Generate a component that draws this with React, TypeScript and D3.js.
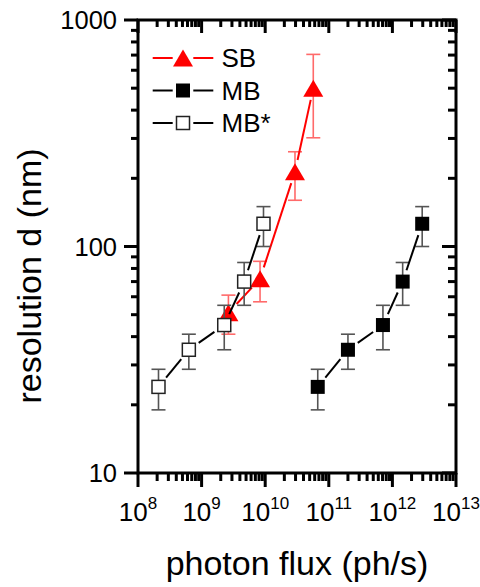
import React from "react";
import * as d3 from "d3";

const sbFlux = [2.64e9, 8.3e9, 2.94e10, 5.7e10];
const sbRes = [51, 72, 214, 500];
const sbHi = [61, 86, 262, 705];
const sbLo = [41, 57, 160, 302];

const mbFlux = [6.7e10, 2.0e11, 7.1e11, 1.45e12, 2.94e12];
const mbRes = [24, 35, 45, 70, 126];
const mbHi = [28.7, 41, 55, 85, 150];
const mbLo = [19, 28.7, 35, 55, 100];

const mbsFlux = [2.1e8, 6.3e8, 2.27e9, 4.67e9, 9.4e9];
const mbsRes = [24, 35, 45, 70, 126];
const mbsHi = [28.7, 41, 55, 85, 150];
const mbsLo = [19, 28.7, 35, 55, 100];

const xDecades = [8, 9, 10, 11, 12, 13];
const yTicks = [10, 100, 1000];
const legendLabels = ["SB", "MB", "MB*"];

const FONT = "'Liberation Sans', Arial, Helvetica, sans-serif";
const L = 138, R = 456, T = 20, B = 473;

const x = d3.scaleLog().domain([1e8, 1e13]).range([L, R]);
const y = d3.scaleLog().domain([10, 1000]).range([B, T]);

const xMinor: number[] = [];
for (let d = 8; d < 13; d++) for (let k = 2; k <= 9; k++) xMinor.push(k * Math.pow(10, d));
const yMinor: number[] = [];
for (let d = 1; d < 3; d++) for (let k = 2; k <= 9; k++) yMinor.push(k * Math.pow(10, d));

type Pt = [number, number];

function gappedSegments(pts: Pt[], gap: number) {
  const segs: { x1: number; y1: number; x2: number; y2: number }[] = [];
  for (let i = 0; i < pts.length - 1; i++) {
    const [ax, ay] = pts[i];
    const [bx, by] = pts[i + 1];
    const dx = bx - ax, dy = by - ay;
    const len = Math.hypot(dx, dy);
    if (len <= 2 * gap) continue;
    const ux = dx / len, uy = dy / len;
    segs.push({ x1: ax + ux * gap, y1: ay + uy * gap, x2: bx - ux * gap, y2: by - uy * gap });
  }
  return segs;
}

function triPath(cx: number, cy: number, w = 20, h = 17) {
  return `M${cx},${cy - h / 2}L${cx + w / 2},${cy + h / 2}L${cx - w / 2},${cy + h / 2}Z`;
}

function Series({
  flux, res, hi, lo, color, errColor, marker,
}: {
  flux: number[]; res: number[]; hi: number[]; lo: number[];
  color: string; errColor: string; marker: "tri" | "sq" | "osq";
}) {
  const pts: Pt[] = flux.map((f, i) => [x(f), y(res[i])]);
  const segs = gappedSegments(pts, 12);
  return (
    <g>
      {flux.map((f, i) => {
        const cx = x(f);
        return (
          <g key={"e" + i} stroke={errColor} strokeWidth={1.6} fill="none">
            <line x1={cx} x2={cx} y1={y(hi[i])} y2={y(lo[i])} />
            <line x1={cx - 7} x2={cx + 7} y1={y(hi[i])} y2={y(hi[i])} />
            <line x1={cx - 7} x2={cx + 7} y1={y(lo[i])} y2={y(lo[i])} />
          </g>
        );
      })}
      {segs.map((s, i) => (
        <line key={"l" + i} {...s} stroke={color} strokeWidth={2} />
      ))}
      {pts.map(([cx, cy], i) =>
        marker === "tri" ? (
          <path key={"m" + i} d={triPath(cx, cy)} fill={color} />
        ) : marker === "sq" ? (
          <rect key={"m" + i} x={cx - 7} y={cy - 7} width={14} height={14} fill="#000" />
        ) : (
          <rect key={"m" + i} x={cx - 6.5} y={cy - 6.5} width={13} height={13} fill="#fff" stroke="#222" strokeWidth={1.5} />
        )
      )}
    </g>
  );
}

export default function App() {
  const legY = [58, 90.5, 123];
  return (
    <svg width={480} height={587} style={{ position: "absolute", left: 0, top: 0, background: "#fff" }} fontFamily={FONT}>
      <rect width={480} height={587} fill="#fff" />
      <Series flux={sbFlux} res={sbRes} hi={sbHi} lo={sbLo} color="#ff0000" errColor="#ff6a6a" marker="tri" />
      <Series flux={mbsFlux} res={mbsRes} hi={mbsHi} lo={mbsLo} color="#000" errColor="#555" marker="osq" />
      <Series flux={mbFlux} res={mbRes} hi={mbHi} lo={mbLo} color="#000" errColor="#555" marker="sq" />

      <rect x={L} y={T} width={R - L} height={B - T} fill="none" stroke="#000" strokeWidth={3} />

      <g stroke="#000" strokeWidth={3}>
        {xDecades.map((d) => {
          const px = x(Math.pow(10, d));
          return (
            <g key={"xt" + d}>
              <line x1={px} x2={px} y1={B} y2={B + 14} />
              <line x1={px} x2={px} y1={T} y2={T + 13} />
            </g>
          );
        })}
        {xMinor.map((v, i) => {
          const px = x(v);
          return (
            <g key={"xm" + i}>
              <line x1={px} x2={px} y1={B} y2={B + 8} />
              <line x1={px} x2={px} y1={T} y2={T + 7} />
            </g>
          );
        })}
        {yTicks.map((v) => {
          const py = y(v);
          return (
            <g key={"yt" + v}>
              <line x1={L - 14} x2={L} y1={py} y2={py} />
              <line x1={R - 14} x2={R} y1={py} y2={py} />
            </g>
          );
        })}
        {yMinor.map((v, i) => {
          const py = y(v);
          return (
            <g key={"ym" + i}>
              <line x1={L - 7} x2={L} y1={py} y2={py} />
              <line x1={R - 8} x2={R} y1={py} y2={py} />
            </g>
          );
        })}
      </g>

      {xDecades.map((d) => (
        <text key={"xl" + d} x={x(Math.pow(10, d))} y={521} textAnchor="middle" fontSize={26} fill="#000">
          <tspan>10</tspan>
          <tspan dy={-12} fontSize={17}>{d}</tspan>
        </text>
      ))}
      {yTicks.map((v) => (
        <text key={"yl" + v} x={117} y={y(v) + 9} textAnchor="end" fontSize={25.5} fill="#000">
          {v}
        </text>
      ))}

      <text x={(L + R) / 2} y={575} textAnchor="middle" fontSize={34} fill="#000">
        photon flux (ph/s)
      </text>
      <text transform={`translate(41,276) rotate(-90)`} textAnchor="middle" fontSize={34} fill="#000">
        resolution d (nm)
      </text>

      {legendLabels.map((lab, i) => {
        const cy = legY[i];
        const col = i === 0 ? "#ff0000" : "#000";
        return (
          <g key={"lg" + i}>
            <line x1={152.7} x2={172.7} y1={cy} y2={cy} stroke={col} strokeWidth={2} />
            <line x1={193.3} x2={213.3} y1={cy} y2={cy} stroke={col} strokeWidth={2} />
            {i === 0 ? (
              <path d={triPath(183, cy)} fill="#ff0000" />
            ) : i === 1 ? (
              <rect x={176} y={cy - 7} width={14} height={14} fill="#000" />
            ) : (
              <rect x={176.5} y={cy - 6.5} width={13} height={13} fill="#fff" stroke="#222" strokeWidth={1.5} />
            )}
            <text x={221.5} y={cy + 9} fontSize={26} fill="#000">
              {lab}
            </text>
          </g>
        );
      })}
    </svg>
  );
}
